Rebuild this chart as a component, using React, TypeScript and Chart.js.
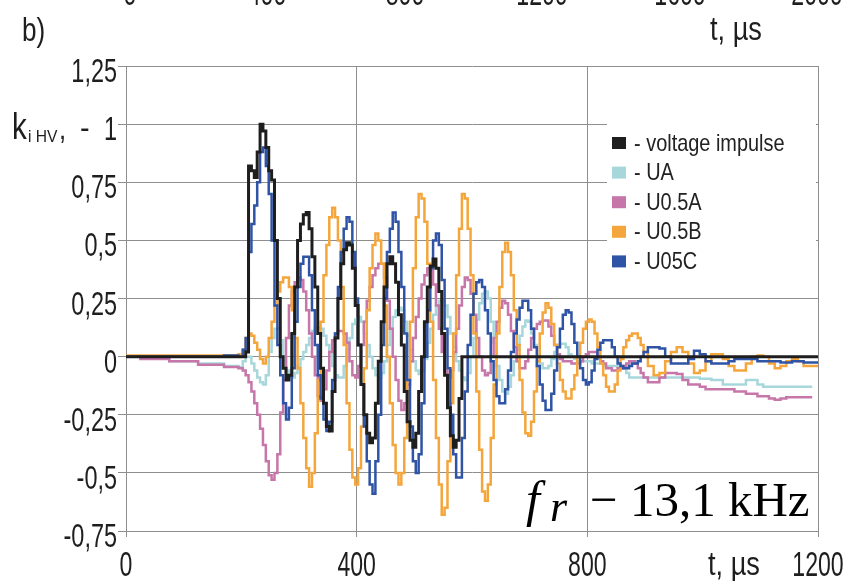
import React, { useEffect, useRef } from 'react';
import { Chart, registerables } from 'chart.js';

Chart.register(...registerables);

const SANS = "'Liberation Sans', Arial, Helvetica, sans-serif";
const SERIF = "'Liberation Serif', 'Times New Roman', serif";

// time axis, µs
const timeUs = [
  0, 50, 100, 150, 190,
  200, 205, 210, 215, 220, 225, 230, 235, 240, 245,
  250, 255, 260, 265, 270, 275, 280, 285, 290, 295,
  300, 305, 310, 315, 320, 325, 330, 335, 340, 345,
  350, 355, 360, 365, 370, 375, 380, 385, 390, 395,
  400, 405, 410, 415, 420, 425, 430, 435, 440, 445,
  450, 455, 460, 465, 470, 475, 480, 485, 490, 495,
  500, 505, 510, 515, 520, 525, 530, 535, 540, 545,
  550, 555, 560, 565, 570, 575, 580, 585, 590, 595,
  600, 605, 610, 615, 620, 625, 630, 635, 640, 645,
  650, 655, 660, 665, 670, 675, 680, 685, 690, 695,
  700, 705, 710, 715, 720, 725, 730, 735, 740, 745,
  750, 755, 760, 765, 770, 775, 780, 785, 790, 795,
  800, 805, 810, 815, 820, 825, 830, 835, 840, 845,
  850, 855, 860, 865, 870, 875, 880, 885, 890, 895,
  900, 910, 920, 930, 940, 950, 960, 970, 980, 990,
  1000, 1010, 1020, 1030, 1040, 1050, 1060, 1070, 1080, 1090,
  1100, 1110, 1120, 1130, 1140, 1150, 1160, 1170, 1180, 1190,
  1200,
];

const voltageImpulse = [
  0, 0, 0, 0, 0,
  0, 0, 0.02, 0.82, 0.80, 0.77, 0.88, 1.0, 0.97, 0.90,
  0.80, 0.76, 0.50, 0.25, 0.0, -0.05, -0.10, -0.08, 0.10, 0.30,
  0.50, 0.57, 0.61, 0.62, 0.55, 0.43, 0.30, 0.10, -0.05, -0.20,
  -0.30, -0.32, -0.15, 0.08, 0.25, 0.40, 0.46, 0.49, 0.48, 0.38,
  0.22, 0.05, -0.12, -0.25, -0.33, -0.37, -0.35, -0.20, -0.02, 0.15,
  0.30, 0.40, 0.43, 0.40, 0.32, 0.18, 0.05, -0.15, -0.28, -0.36,
  -0.39, -0.33, -0.15, 0.0, 0.15, 0.30, 0.39, 0.42, 0.38, 0.28,
  0.10, -0.08, -0.22, -0.34, -0.39, -0.36, -0.18, 0, 0, 0,
  0, 0, 0, 0, 0, 0, 0, 0, 0, 0,
  0, 0, 0, 0, 0, 0, 0, 0, 0, 0,
  0, 0, 0, 0, 0, 0, 0, 0, 0, 0,
  0, 0, 0, 0, 0, 0, 0, 0, 0, 0,
  0, 0, 0, 0, 0, 0, 0, 0, 0, 0,
  0, 0, 0, 0, 0, 0, 0, 0, 0, 0,
  0, 0, 0, 0, 0, 0, 0, 0, 0, 0,
  0, 0, 0, 0, 0, 0, 0, 0, 0, 0,
  0, 0, 0, 0, 0, 0, 0, 0, 0, 0,
  0,
];

const seriesUA = [
  0, -0.005, -0.02, -0.03, -0.04,
  -0.045, -0.02, 0.0, 0.0, -0.03, -0.06, -0.09, -0.11, -0.12, -0.08,
  0.02, 0.08, 0.12, 0.12, 0.07, 0.0, -0.06, -0.09, -0.09, -0.07,
  -0.04, -0.01, 0.02, 0.05, 0.08, 0.11, 0.125, 0.125, 0.12, 0.09,
  0.05, 0.02, -0.04, -0.08, -0.09, -0.09, -0.04, 0.03, 0.08, 0.14,
  0.16, 0.17, 0.15, 0.10, 0.05, 0.0, -0.05, -0.08, -0.09, -0.07,
  -0.02, 0.05, 0.12, 0.17, 0.20, 0.21, 0.20, 0.15, 0.09, 0.03,
  -0.02, -0.06, -0.075, -0.06, -0.01, 0.06, 0.12, 0.18, 0.22, 0.24,
  0.24, 0.22, 0.17, 0.10, 0.04, -0.02, -0.06, -0.09, -0.10, -0.07,
  0.0, 0.08, 0.16, 0.23, 0.27, 0.28, 0.25, 0.15, 0.06, -0.04,
  -0.10, -0.15, -0.16, -0.13, -0.08, -0.02, 0.03, 0.09, 0.13, 0.155,
  0.15, 0.10, 0.05, 0.0, -0.03, -0.05, -0.05, -0.04, -0.01, 0.02,
  0.04, 0.055, 0.055, 0.04, 0.01, 0.0, -0.01, -0.02, -0.02, -0.02,
  -0.02, -0.02, -0.03, -0.03, -0.03, -0.03, -0.04, -0.04, -0.04, -0.04,
  -0.04, -0.045, -0.05, -0.05, -0.07, -0.09, -0.09, -0.09, -0.09, -0.09,
  -0.09, -0.09, -0.09, -0.09, -0.09, -0.09, -0.09, -0.09, -0.09, -0.09,
  -0.095, -0.095, -0.10, -0.10, -0.12, -0.12, -0.12, -0.12, -0.10, -0.10,
  -0.12, -0.13, -0.13, -0.13, -0.13, -0.13, -0.13, -0.13, -0.13, -0.13,
  null,
];

const seriesU05A = [
  0, -0.01, -0.02, -0.035, -0.045,
  -0.05, -0.06, -0.08, -0.11, -0.15, -0.20, -0.25, -0.31, -0.38, -0.45,
  -0.51, -0.53, -0.50, -0.42, -0.24, -0.10, 0.08, 0.22, 0.28, 0.32,
  0.34, 0.33, 0.28, 0.20, 0.10, 0.0, -0.08, -0.17, -0.19, -0.14,
  -0.06, 0.02, 0.07, 0.10, 0.11, 0.11, 0.10, 0.06, -0.02, -0.08,
  -0.09, -0.04, 0.05, 0.15, 0.24, 0.30, 0.35, 0.38, 0.40, 0.40,
  0.34, 0.24, 0.12, 0.0, -0.10, -0.19, -0.23, -0.20, -0.12, -0.02,
  0.08, 0.17, 0.25, 0.31, 0.35, 0.38, 0.37, 0.31, 0.22, 0.12,
  0.02, -0.06, -0.09, -0.06, 0.02, 0.12, 0.22, 0.30, 0.34, 0.33,
  0.27, 0.18, 0.08, 0.0, -0.06, -0.08, -0.07, 0.0, 0.08, 0.15,
  0.21, 0.24, 0.23, 0.18, 0.11, 0.04, -0.02, -0.05, -0.05, -0.02,
  0.03, 0.08, 0.12, 0.14, 0.15, 0.155, 0.155, 0.13, 0.09, 0.05,
  0.01, -0.01, -0.02, -0.02, -0.02, -0.03, -0.03, -0.03, -0.02, 0.0,
  0.01, 0.02, 0.02, 0.02, 0.0, -0.02, -0.03, -0.05, -0.05, -0.06,
  -0.06, -0.05, -0.05, -0.04, -0.03, -0.02, -0.02, -0.03, -0.05, -0.07,
  -0.09, -0.11, -0.11, -0.09, -0.07, -0.07, -0.075, -0.10, -0.12, -0.12,
  -0.13, -0.14, -0.14, -0.14, -0.14, -0.14, -0.15, -0.15, -0.16, -0.16,
  -0.17, -0.17, -0.18, -0.185, -0.18, -0.175, -0.175, -0.175, -0.175, -0.175,
  null,
];

const seriesU05B = [
  0.005, 0.005, 0.005, 0.005, 0.005,
  0.01, 0.03, 0.08, 0.10, 0.09, 0.06, 0.03, -0.01, -0.03, 0.0,
  0.08, 0.15, 0.22, 0.28, 0.32, 0.34, 0.34, 0.30, 0.20, 0.08,
  -0.05, -0.20, -0.35, -0.48, -0.56, -0.50, -0.33, -0.10, 0.15, 0.35,
  0.48, 0.60, 0.64, 0.60, 0.50, 0.30, 0.05, -0.20, -0.40, -0.52,
  -0.55, -0.48, -0.30, -0.05, 0.20, 0.38, 0.48, 0.53, 0.50, 0.40,
  0.22, 0.0, -0.20, -0.38, -0.50, -0.55, -0.50, -0.35, -0.10, 0.15,
  0.38, 0.60, 0.70, 0.68, 0.58, 0.40, 0.15, -0.10, -0.35, -0.55,
  -0.68, -0.65, -0.45, -0.20, 0.10, 0.35, 0.55, 0.70, 0.68, 0.55,
  0.35, 0.10, -0.15, -0.40, -0.58, -0.62, -0.55, -0.35, -0.12, 0.10,
  0.30, 0.45, 0.49, 0.45, 0.35, 0.20, 0.05, -0.10, -0.24, -0.33,
  -0.34, -0.28, -0.15, -0.02, 0.10, 0.19, 0.23, 0.21, 0.14, 0.05,
  -0.03, -0.10, -0.15, -0.18, -0.18, -0.14, -0.08, 0.0, 0.06, 0.12,
  0.15, 0.16, 0.15, 0.10, 0.04, -0.03, -0.08, -0.13, -0.15, -0.15,
  -0.12, -0.06, -0.01, 0.04, 0.07, 0.09, 0.10, 0.10, 0.08, 0.05,
  0.02, -0.04, -0.08, -0.07, -0.02, 0.02, 0.04, 0.02, -0.03, -0.07,
  -0.06, -0.02, 0.01, 0.01, -0.01, -0.04, -0.06, -0.06, -0.03, 0.0,
  0.005, 0.0, -0.03, -0.05, -0.04, -0.02, -0.01, -0.02, -0.04, -0.04,
  -0.04,
];

const seriesU05C = [
  0, 0, 0, 0, 0.005,
  0, 0.03, 0.08, 0.45, 0.57, 0.65, 0.75, 0.88, 0.90, 0.82,
  0.70, 0.50, 0.22, 0.05, -0.08, -0.20, -0.27, -0.22, -0.05, 0.15,
  0.30, 0.40, 0.43, 0.43, 0.35, 0.20, 0.05, -0.08, -0.18, -0.27,
  -0.32, -0.28, -0.10, 0.10, 0.30, 0.45, 0.55, 0.60, 0.58, 0.45,
  0.25, 0.05, -0.12, -0.30, -0.45, -0.55, -0.59, -0.45, -0.25, 0.05,
  0.25, 0.45, 0.55, 0.62, 0.58, 0.45, 0.30, 0.10, -0.10, -0.30,
  -0.45, -0.50, -0.42, -0.20, 0.0, 0.20, 0.38, 0.50, 0.53, 0.48,
  0.33, 0.12, -0.05, -0.25, -0.42, -0.52, -0.52, -0.35, -0.15, 0.05,
  0.18, 0.27, 0.32, 0.33, 0.30, 0.20, 0.10, -0.02, -0.10, -0.17,
  -0.20, -0.20, -0.14, -0.06, 0.02, 0.10, 0.16, 0.21, 0.24, 0.24,
  0.20, 0.12, 0.04, -0.04, -0.12, -0.19, -0.23, -0.23, -0.16, -0.06,
  0.04, 0.12, 0.18, 0.20, 0.19, 0.14, 0.06, 0.0, -0.05, -0.10,
  -0.12, -0.11, -0.06, -0.01, 0.03, 0.06, 0.07, 0.07, 0.07, 0.04,
  0.0, -0.03, -0.04, -0.05, -0.05, -0.04, -0.03, -0.03, -0.02, 0.0,
  0.02, 0.04, 0.04, 0.035, 0.0, -0.03, -0.03, -0.03, -0.01, 0.025,
  0.01, -0.02, -0.03, -0.03, -0.03, -0.02, -0.01, -0.01, -0.01, -0.01,
  -0.02, -0.02, -0.02, -0.02, -0.025, -0.025, -0.02, -0.02, -0.025, -0.025,
  -0.025,
];

const seriesLabels = ['voltage impulse', 'UA', 'U0.5A', 'U0.5B', 'U05C'];
const seriesColors = ['#1e1e1e', '#a8d7db', '#c676a9', '#f4a63c', '#2f53a5'];
const seriesValues = [voltageImpulse, seriesUA, seriesU05A, seriesU05B, seriesU05C];
const drawOrder = [0, 4, 3, 2, 1];
const lineWidths = [3, 2.5, 2.5, 2.5, 2.5];

const xTicks = [0, 400, 800, 1200];
const topAxisTicks = [0, 400, 800, 1200, 1600, 2000];

function fmtY(v: number) {
  return String(Math.round(v * 100) / 100).replace('.', ',');
}

function condensedText(ctx: any, text: string, x: number, y: number, align: string, sx: number) {
  ctx.save();
  ctx.translate(x, y);
  ctx.scale(sx, 1);
  ctx.textAlign = align;
  ctx.fillText(text, 0, 0);
  ctx.restore();
}

const tickLabels = {
  id: 'tickLabels',
  afterDraw(chart: any) {
    const { ctx } = chart;
    const xs = chart.scales.x;
    const ys = chart.scales.y;
    ctx.save();
    ctx.fillStyle = '#1e1e1e';
    ctx.textBaseline = 'alphabetic';
    ctx.font = `34px ${SANS}`;
    ys.ticks.forEach((t: any) => {
      const py = ys.getPixelForValue(t.value);
      condensedText(ctx, fmtY(t.value), ys.right - 9, py + 16, 'right', 0.69);
    });
    ctx.font = `35px ${SANS}`;
    xs.ticks.forEach((t: any) => {
      const px = xs.getPixelForValue(t.value);
      condensedText(ctx, String(t.value), px, xs.top + 45, 'center', 0.66);
    });
    ctx.restore();
  },
};

const boxLegend = {
  id: 'boxLegend',
  afterDraw(chart: any) {
    const { ctx } = chart;
    ctx.save();
    ctx.fillStyle = '#ffffff';
    ctx.fillRect(607, 110, 209, 166);
    ctx.font = `24px ${SANS}`;
    ctx.textBaseline = 'middle';
    chart.data.datasets.forEach((ds: any, i: number) => {
      const cy = 143 + i * 29.6;
      ctx.fillStyle = ds.borderColor;
      ctx.fillRect(612, cy - 6, 14, 12);
      ctx.fillStyle = '#222';
      condensedText(ctx, '- ' + ds.label, 634, cy + 1, 'left', 0.83);
    });
    ctx.restore();
  },
};

function Txt(props: any) {
  const { x, y, size, family = SANS, align = 'left', sx = 1, style = {}, children } = props;
  const shift = align === 'center' ? ' translateX(-50%)' : align === 'right' ? ' translateX(-100%)' : '';
  return (
    <div
      style={{
        position: 'absolute',
        left: x,
        top: y - size * 0.905,
        fontSize: size,
        fontFamily: family,
        lineHeight: 'normal',
        whiteSpace: 'nowrap',
        transformOrigin: '0 0',
        transform: `scaleX(${sx})${shift}`,
        color: '#1e1e1e',
        ...style,
      }}
    >
      {children}
    </div>
  );
}

export default function App() {
  const canvasRef = useRef<HTMLCanvasElement | null>(null);

  useEffect(() => {
    if (!canvasRef.current) return;
    const datasets = seriesLabels.map((label, i) => ({
      label,
      data: timeUs.map((t, k) => ({ x: t, y: seriesValues[i][k] })),
      borderColor: seriesColors[i],
      backgroundColor: seriesColors[i],
      borderWidth: lineWidths[i],
      pointRadius: 0,
      stepped: 'middle' as const,
      fill: false,
      order: drawOrder[i],
      spanGaps: false,
    }));
    const chart = new Chart(canvasRef.current, {
      type: 'line',
      data: { datasets },
      options: {
        responsive: false,
        maintainAspectRatio: false,
        animation: false,
        devicePixelRatio: 1,
        layout: { padding: { left: 0, right: 26, top: 66, bottom: 0 } },
        plugins: { legend: { display: false }, tooltip: { enabled: false } },
        scales: {
          x: {
            type: 'linear',
            min: 0,
            max: 1200,
            afterBuildTicks: (s: any) => {
              s.ticks = xTicks.map((v) => ({ value: v }));
            },
            ticks: { display: false },
            grid: { color: '#8e8e8e', lineWidth: 1, tickLength: 6 },
            border: { color: '#8e8e8e' },
            afterFit: (s: any) => {
              s.height = 50;
            },
          },
          y: {
            min: -0.75,
            max: 1.25,
            ticks: { display: false, stepSize: 0.25 },
            grid: { color: '#8e8e8e', lineWidth: 1, tickLength: 8 },
            border: { color: '#8e8e8e' },
            afterFit: (s: any) => {
              s.width = 126;
            },
          },
        },
      },
      plugins: [tickLabels, boxLegend],
    });
    return () => chart.destroy();
  }, []);

  return (
    <div style={{ position: 'absolute', left: 0, top: 0, width: 844, height: 581, overflow: 'hidden', background: '#fff' }}>
      <canvas ref={canvasRef} width={844} height={581} style={{ display: 'block', position: 'absolute', left: 0, top: 0 }} />
      {topAxisTicks.map((v) => (
        <Txt key={v} x={130 + v * 0.3435} y={5} size={35} sx={0.66} align="center">
          {String(v)}
        </Txt>
      ))}
      <Txt x={22} y={41} size={34} sx={0.77}>b)</Txt>
      <Txt x={710} y={40} size={34} sx={0.8}>t, µs</Txt>
      <Txt x={708} y={575} size={34} sx={0.8}>t, µs</Txt>
      <Txt x={12} y={139} size={37} sx={0.8}>k</Txt>
      <Txt x={28} y={142} size={17} sx={0.92}>i HV</Txt>
      <Txt x={59} y={139} size={32} sx={0.8}>,</Txt>
      <Txt x={80} y={138} size={32} sx={0.9}>-</Txt>
      <Txt x={526} y={515} size={50} family={SERIF} style={{ fontStyle: 'italic', color: '#000' }}>f</Txt>
      <Txt x={550} y={521} size={44} family={SERIF} style={{ fontStyle: 'italic', color: '#000' }}>r</Txt>
      <Txt x={590} y={515} size={49} family={SERIF} style={{ color: '#000' }}>− 13,1 kHz</Txt>
    </div>
  );
}
